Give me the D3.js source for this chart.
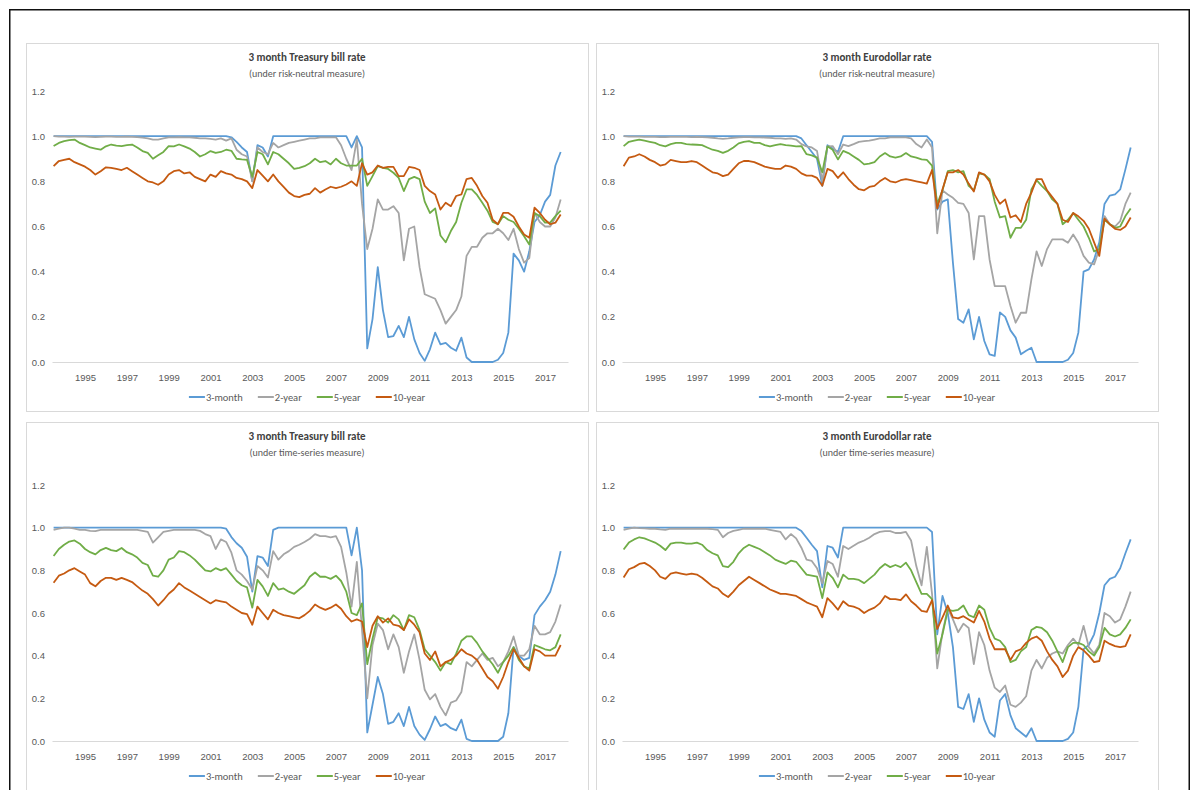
<!DOCTYPE html>
<html>
<head>
<meta charset="utf-8">
<script src="https://cdn.jsdelivr.net/npm/d3@7"></script>
<style>
  html, body { margin: 0; padding: 0; background: #fff; }
  svg { display: block; font-family: Carlito, Lato, "Open Sans", sans-serif; }
</style>
</head>
<body>
<svg id="fig" width="1199" height="790"></svg>
<script>
// Quarterly observation dates, Jul 1993 - Oct 2017
const quarters = d3.timeMonth.every(3).range(new Date(1993, 6, 1), new Date(2017, 9, 2));

const yearTicks = [1995, 1997, 1999, 2001, 2003, 2005, 2007, 2009, 2011, 2013, 2015, 2017];
const valueTicks = [0, 0.2, 0.4, 0.6, 0.8, 1.0, 1.2];
const seriesNames = ["3-month", "2-year", "5-year", "10-year"];
const seriesColors = ["#5B9BD5", "#A5A5A5", "#70AD47", "#C55A11"];

const panelTitles = ["3 month Treasury bill rate", "3 month Eurodollar rate",
                     "3 month Treasury bill rate", "3 month Eurodollar rate"];
const panelSubtitles = ["(under risk-neutral measure)", "(under risk-neutral measure)",
                        "(under time-series measure)", "(under time-series measure)"];

// ---- Treasury bill, risk-neutral measure ----
const tbRN_3m = [
  1,1,
  1,1,1,1, 1,1,1,1, 1,1,1,1, 1,1,1,1,
  1,1,1,1, 1,1,1,1, 1,1,1,1, 1,1,1,1,
  .995,.975,.95,.93, .80,.96,.95,.91, 1,1,1,1, 1,1,1,1,
  1,1,1,1, 1,1,1,.95, 1,.95,.06,.19, .42,.23,.11,.115,
  .16,.11,.20,.10, .04,.005,.056,.13, .078,.085,.063,.05, .108,.02,0,0,
  0,0,0,.01, .04,.13,.48,.45, .40,.49,.62,.65, .71,.74,.87,.93
];
const tbRN_2y = [
  1,.998,
  .998,.997,.998,.998, .998,.997,.996,.997, .998,.998,.997,.997, .998,.997,.996,.994,
  .99,.985,.985,.99, .995,.995,.996,.995, .995,.993,.99,.99, .988,.985,.99,.98,
  .99,.94,.92,.91, .80,.95,.93,.92, .97,.95,.96,.97, .975,.98,.985,.99,
  .99,.995,.995,.995, .995,.96,.90,.85, .985,.70,.50,.59, .72,.675,.675,.69,
  .66,.45,.59,.60, .42,.30,.29,.28, .23,.17,.20,.23, .29,.47,.51,.51,
  .55,.57,.57,.59, .57,.54,.59,.50, .44,.46,.66,.62, .60,.60,.64,.72
];
const tbRN_5y = [
  .956,.97,
  .978,.982,.985,.97, .96,.95,.945,.94, .955,.963,.958,.956, .96,.963,.95,.934,
  .926,.90,.915,.93, .956,.955,.963,.955, .945,.93,.91,.92, .934,.926,.93,.94,
  .935,.90,.897,.895, .82,.93,.92,.875, .93,.92,.90,.88, .855,.86,.867,.88,
  .90,.885,.89,.875, .90,.88,.87,.87, .87,.90,.78,.823, .867,.86,.855,.838,
  .815,.757,.81,.82, .81,.71,.66,.68, .56,.53,.58,.62, .705,.764,.764,.74,
  .705,.67,.62,.61, .646,.63,.62,.59, .557,.52,.66,.646, .617,.617,.646,.67
];
const tbRN_10y = [
  .867,.89,
  .895,.90,.885,.875, .865,.85,.83,.845, .862,.86,.855,.85, .86,.845,.83,.815,
  .80,.795,.785,.80, .83,.845,.85,.835, .84,.82,.81,.80, .83,.82,.845,.835,
  .83,.815,.81,.80, .77,.85,.825,.80, .83,.80,.775,.75, .735,.73,.74,.745,
  .77,.75,.764,.776, .77,.776,.786,.80, .78,.88,.83,.84, .87,.86,.864,.864,
  .823,.823,.864,.86, .85,.78,.757,.742, .675,.705,.69,.735, .742,.81,.815,.78,
  .735,.705,.63,.61, .66,.66,.643,.60, .565,.55,.683,.66, .63,.61,.617,.653
];

// ---- Eurodollar, risk-neutral measure ----
const edRN_3m = [
  1,1,
  1,1,1,1, 1,1,1,1, 1,1,1,1, 1,1,1,1,
  1,1,1,1, 1,1,1,1, 1,1,1,1, 1,1,1,1,
  .99,.96,.93,.90, .78,.96,.945,.93, 1,1,1,1, 1,1,1,1,
  1,1,1,1, 1,1,1,1, 1,.975,.675,.71, .72,.44,.19,.174,
  .233,.10,.20,.093, .034,.027,.22,.20, .14,.108,.034,.05, .063,0,0,0,
  0,0,0,.01, .04,.13,.40,.41, .454,.53,.70,.737, .742,.764,.853,.95
];
const edRN_2y = [
  1,.998,
  .998,.998,.997,.997, .997,.996,.996,.997, .997,.997,.997,.996, .997,.996,.995,.993,
  .99,.988,.99,.993, .995,.996,.996,.995, .995,.994,.993,.99, .99,.988,.99,.985,
  .965,.955,.95,.934, .80,.955,.956,.92, .963,.956,.965,.975, .978,.98,.985,.99,
  .99,.995,.995,.995, .995,.99,.965,.95, .985,.95,.57,.76, .742,.727,.705,.70,
  .66,.454,.646,.646, .454,.336,.336,.336, .248,.174,.218,.218, .366,.49,.425,.50,
  .543,.543,.543,.528, .565,.528,.47,.44, .432,.50,.646,.61, .60,.624,.70,.75
];
const edRN_5y = [
  .956,.975,
  .98,.985,.98,.975, .97,.96,.955,.965, .97,.97,.965,.963, .962,.96,.95,.94,
  .935,.926,.935,.95, .968,.975,.978,.97, .97,.96,.955,.96, .965,.96,.958,.955,
  .956,.92,.915,.905, .84,.955,.94,.897, .935,.925,.91,.895, .875,.878,.885,.91,
  .925,.91,.905,.91, .925,.91,.905,.897, .895,.87,.70,.76, .845,.85,.84,.845,
  .78,.76,.835,.83, .81,.71,.64,.646, .55,.594,.594,.63, .764,.805,.78,.757,
  .72,.70,.61,.63, .66,.63,.60,.55, .49,.50,.63,.61, .594,.60,.646,.68
];
const edRN_10y = [
  .867,.905,
  .91,.92,.91,.895, .885,.87,.875,.895, .89,.885,.885,.89, .885,.87,.855,.84,
  .835,.823,.83,.855, .88,.89,.89,.885, .875,.865,.86,.855, .855,.87,.865,.855,
  .835,.825,.825,.815, .78,.855,.845,.815, .84,.81,.785,.765, .76,.775,.78,.80,
  .815,.80,.795,.805, .81,.805,.80,.795, .79,.85,.68,.765, .84,.84,.85,.83,
  .79,.755,.84,.83, .80,.74,.70,.72, .64,.65,.62,.70, .75,.81,.81,.76,
  .73,.70,.63,.62, .66,.645,.625,.59, .53,.47,.635,.61, .59,.585,.60,.64
];

// ---- Treasury bill, time-series measure ----
const tbTS_3m = [
  1,1,
  1,1,1,1, 1,1,1,1, 1,1,1,1, 1,1,1,1,
  1,1,1,1, 1,1,1,1, 1,1,1,1, 1,1,1,.995,
  .956,.927,.906,.864, .70,.867,.86,.82, .99,1,1,1, 1,1,1,1,
  1,1,1,1, 1,1,1,.87, 1,.80,.04,.17, .30,.22,.08,.09,
  .13,.07,.16,.07, .03,.005,.055,.115, .07,.08,.06,.05, .10,.01,0,0,
  0,0,0,0, .02,.13,.44,.40, .38,.39,.59,.63, .66,.70,.78,.89
];
const tbTS_2y = [
  .99,.995,
  1,1,.995,.99, .99,.985,.984,.99, .99,.99,.99,.99, .99,.99,.99,.985,
  .98,.93,.955,.98, .985,.99,.99,.99, .99,.99,.985,.97, .96,.90,.945,.933,
  .883,.80,.78,.75, .71,.82,.80,.766, .89,.85,.875,.89, .91,.92,.933,.948,
  .97,.96,.96,.955, .96,.91,.79,.63, .84,.52,.20,.45, .55,.52,.43,.50,
  .44,.32,.42,.50, .38,.24,.195,.22, .16,.12,.18,.19, .23,.37,.35,.38,
  .41,.38,.39,.35, .37,.42,.49,.40, .40,.43,.54,.50, .50,.51,.56,.64
];
const tbTS_5y = [
  .867,.90,
  .92,.935,.94,.925, .90,.885,.875,.895, .905,.895,.89,.905, .885,.875,.86,.835,
  .825,.775,.77,.80, .85,.86,.89,.885, .87,.85,.825,.80, .795,.81,.80,.81,
  .78,.75,.73,.72, .625,.755,.725,.68, .74,.71,.715,.70, .69,.71,.73,.77,
  .79,.77,.77,.76, .775,.75,.70,.60, .59,.645,.36,.48, .58,.575,.555,.59,
  .57,.52,.59,.58, .52,.43,.40,.37, .33,.37,.36,.41, .47,.49,.49,.46,
  .42,.39,.36,.32, .37,.40,.44,.38, .35,.34,.45,.44, .43,.425,.44,.50
];
const tbTS_10y = [
  .742,.775,
  .785,.80,.81,.795, .78,.74,.725,.75, .765,.765,.755,.765, .755,.745,.725,.705,
  .69,.665,.635,.66, .69,.71,.74,.72, .705,.69,.675,.66, .645,.66,.655,.65,
  .63,.615,.60,.595, .545,.63,.60,.57, .615,.60,.59,.585, .58,.575,.59,.61,
  .64,.625,.615,.625, .64,.62,.585,.56, .57,.56,.44,.54, .585,.555,.575,.545,
  .54,.52,.57,.545, .51,.41,.38,.42, .35,.37,.38,.40, .43,.41,.40,.38,
  .34,.30,.28,.245, .30,.37,.43,.39, .35,.33,.43,.42, .40,.40,.40,.45
];

// ---- Eurodollar, time-series measure ----
const edTS_3m = [
  1,1,
  1,1,1,1, 1,1,1,1, 1,1,1,1, 1,1,1,1,
  1,1,1,1, 1,1,1,1, 1,1,1,1, 1,1,1,1,
  .984,.953,.92,.89, .72,.914,.906,.86, 1,1,1,1, 1,1,1,1,
  1,1,1,1, 1,1,1,1, 1,.98,.50,.68, .60,.44,.16,.15,
  .22,.09,.20,.10, .04,.02,.19,.22, .12,.06,.04,.02, .06,0,0,0,
  0,0,0,.01, .04,.16,.43,.45, .50,.60,.73,.76, .77,.81,.88,.945
];
const edTS_2y = [
  .99,.995,
  1,.998,.997,.995, .995,.992,.99,.995, .995,.995,.995,.995, .995,.995,.995,.993,
  .99,.955,.975,.985, .99,.995,.995,.995, .995,.995,.99,.985, .98,.945,.97,.95,
  .906,.85,.844,.81, .74,.844,.83,.77, .914,.90,.915,.93, .94,.953,.97,.98,
  .984,.984,.975,.975, .98,.94,.82,.73, .91,.69,.34,.51, .62,.57,.51,.55,
  .53,.36,.51,.45, .33,.25,.23,.26, .17,.16,.18,.21, .33,.38,.34,.39,
  .41,.42,.41,.45, .48,.45,.54,.44, .41,.45,.60,.585, .555,.57,.63,.70
];
const edTS_5y = [
  .898,.93,
  .945,.955,.95,.94, .93,.915,.895,.925, .93,.93,.925,.925, .93,.92,.895,.88,
  .87,.82,.815,.84, .88,.905,.92,.91, .90,.885,.87,.85, .84,.83,.845,.84,
  .81,.78,.775,.77, .67,.79,.765,.72, .78,.76,.76,.755, .74,.76,.78,.81,
  .83,.815,.825,.815, .836,.80,.745,.69, .69,.665,.41,.50, .615,.61,.615,.635,
  .59,.58,.635,.615, .53,.48,.47,.44, .37,.38,.42,.44, .52,.535,.53,.51,
  .47,.42,.37,.44, .46,.46,.45,.42, .40,.44,.53,.50, .49,.50,.53,.57
];
const edTS_10y = [
  .766,.805,
  .815,.83,.835,.82, .80,.77,.76,.785, .79,.785,.78,.785, .78,.765,.745,.725,
  .715,.69,.675,.70, .73,.75,.77,.755, .74,.725,.71,.70, .69,.69,.685,.68,
  .665,.65,.64,.63, .58,.67,.645,.615, .655,.635,.63,.62, .60,.615,.625,.645,
  .68,.665,.665,.66, .6875,.655,.635,.61, .605,.66,.525,.58, .635,.58,.575,.585,
  .57,.555,.61,.56, .48,.43,.43,.43, .38,.42,.43,.46, .48,.49,.47,.42,
  .38,.35,.30,.33, .40,.44,.425,.40, .37,.375,.47,.455, .445,.44,.445,.50
];

const panelSeries = [
  [tbRN_3m, tbRN_2y, tbRN_5y, tbRN_10y],
  [edRN_3m, edRN_2y, edRN_5y, edRN_10y],
  [tbTS_3m, tbTS_2y, tbTS_5y, tbTS_10y],
  [edTS_3m, edTS_2y, edTS_5y, edTS_10y]
];

// ---------------- drawing ----------------
const svg = d3.select("#fig");

// outer frame
svg.append("rect")
  .attr("x", 9.75).attr("y", 9.75)
  .attr("width", 1179.5).attr("height", 800)
  .attr("fill", "none").attr("stroke", "#111").attr("stroke-width", 1.5);

const panelW = 562, panelH = 368;
const plotLeft = 26, plotRight = 542, plotBottom = 319;
const frames = [
  { x: 26,  y: 43,  top: 48 },
  { x: 596, y: 43,  top: 48 },
  { x: 26,  y: 422, top: 63 },
  { x: 596, y: 422, top: 63 }
];

const x = d3.scaleTime()
  .domain([new Date(1993, 5, 3), new Date(2018, 1, 6)])
  .range([plotLeft, plotRight]);

frames.forEach((f, k) => {
  const g = svg.append("g").attr("transform", `translate(${f.x},${f.y})`);

  g.append("rect")
    .attr("x", 0.5).attr("y", 0.5)
    .attr("width", panelW).attr("height", panelH)
    .attr("fill", "#fff").attr("stroke", "#d9d9d9");

  const y = d3.scaleLinear().domain([0, 1.2]).range([plotBottom, f.top]);

  // titles
  g.append("text")
    .attr("x", panelW / 2).attr("y", 18)
    .attr("text-anchor", "middle")
    .attr("font-size", 11).attr("font-weight", "bold")
    .attr("fill", "#404040")
    .text(panelTitles[k]);
  g.append("text")
    .attr("x", panelW / 2).attr("y", 33.5)
    .attr("text-anchor", "middle")
    .attr("font-size", 10)
    .attr("fill", "#595959")
    .text(panelSubtitles[k]);

  // value axis (labels only)
  const yAxis = g.append("g")
    .attr("transform", `translate(${plotLeft - 7},0)`)
    .call(d3.axisLeft(y).tickValues(valueTicks).tickFormat(d3.format(".1f")).tickSize(0).tickPadding(0));
  yAxis.select(".domain").remove();
  yAxis.selectAll("text").attr("font-size", 9.5).attr("fill", "#595959").attr("font-family", null);

  // date axis
  const xAxis = g.append("g")
    .attr("transform", `translate(0,${plotBottom})`)
    .call(d3.axisBottom(x)
      .tickValues(yearTicks.map(yr => new Date(yr, 0, 1)))
      .tickFormat(d3.timeFormat("%Y"))
      .tickSize(0).tickSizeOuter(0).tickPadding(12));
  xAxis.select(".domain").attr("stroke", "#d9d9d9");
  xAxis.selectAll("text").attr("font-size", 9.5).attr("fill", "#595959").attr("font-family", null);

  // series
  const line = d3.line()
    .x((d, i) => x(quarters[i]))
    .y(d => y(d));
  panelSeries[k].forEach((vals, s) => {
    g.append("path")
      .datum(vals)
      .attr("d", line)
      .attr("fill", "none")
      .attr("stroke", seriesColors[s])
      .attr("stroke-width", 1.8)
      .attr("stroke-linejoin", "round");
  });

  // legend
  const leg = g.append("g").attr("transform", `translate(0,${plotBottom + 35})`);
  const items = leg.selectAll("g.item").data(seriesNames).join("g").attr("class", "item");
  items.append("line")
    .attr("x1", 0).attr("x2", 16).attr("y1", 0).attr("y2", 0)
    .attr("stroke", (d, i) => seriesColors[i]).attr("stroke-width", 2);
  items.append("text")
    .attr("x", 17).attr("y", 3.6)
    .attr("font-size", 10.5).attr("fill", "#595959")
    .text(d => d);
  let widths = [];
  items.each(function () { widths.push(17 + this.querySelector("text").getComputedTextLength()); });
  const gap = 15;
  const total = d3.sum(widths) + gap * (widths.length - 1);
  let cx = panelW / 2 - total / 2;
  items.attr("transform", (d, i) => {
    const t = `translate(${cx},0)`;
    cx += widths[i] + gap;
    return t;
  });
});
</script>
</body>
</html>
